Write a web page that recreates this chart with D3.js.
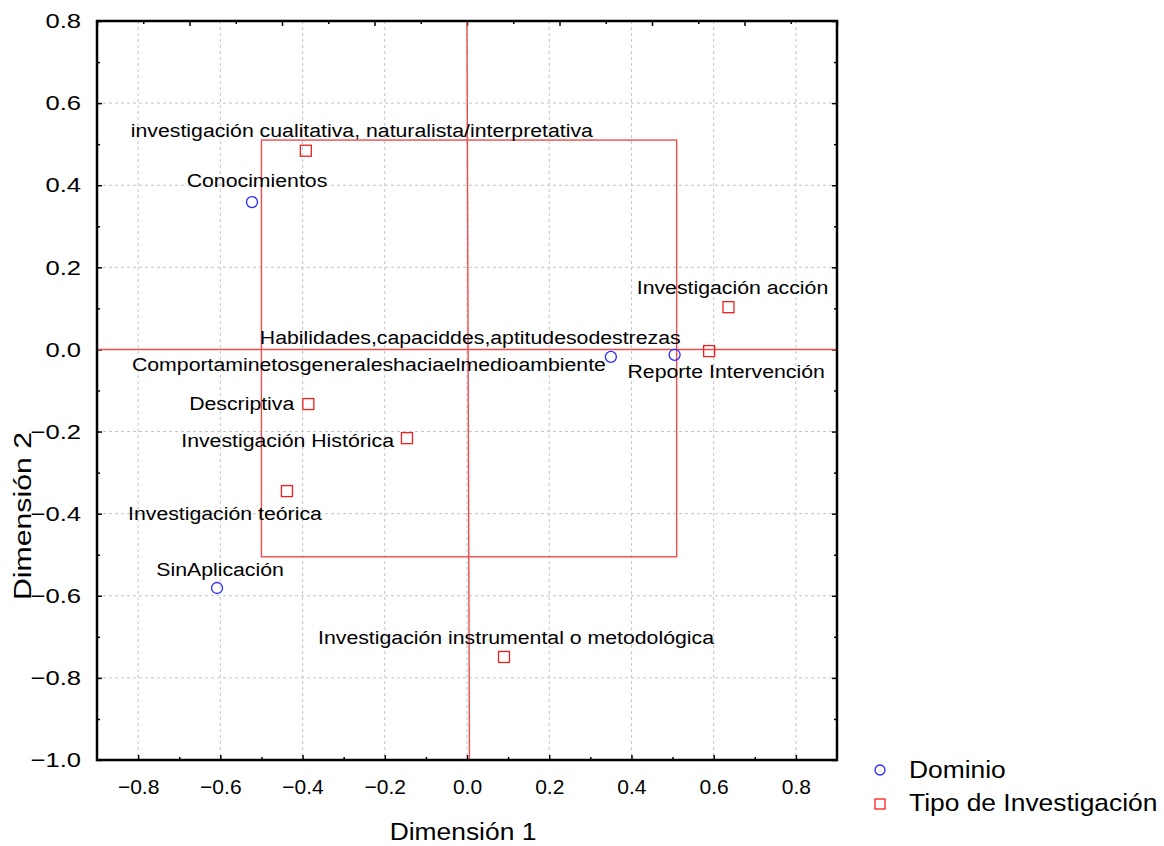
<!DOCTYPE html>
<html>
<head>
<meta charset="utf-8">
<script src="https://cdn.jsdelivr.net/npm/d3@7"></script>
<style>
  body { margin: 0; background: #fff; }
  text { font-family: "Liberation Sans", Arial, sans-serif; fill: #000; }
</style>
</head>
<body>
<div id="my_plot"></div>
<script>
// data
const dominioNames = ["Conocimientos", "Habilidades,capaciddes,aptitudesodestrezas",
    "Comportaminetosgeneraleshaciaelmedioambiente", "SinAplicación"];
const dominioDim1 = [-0.523, 0.505, 0.350, -0.608];
const dominioDim2 = [0.359, -0.013, -0.018, -0.581];

const tipoNames = ["investigación cualitativa, naturalista/interpretativa", "Investigación acción",
    "Reporte Intervención", "Descriptiva", "Investigación Histórica", "Investigación teórica",
    "Investigación instrumental o metodológica"];
const tipoDim1 = [-0.392, 0.636, 0.589, -0.386, -0.146, -0.438, 0.090];
const tipoDim2 = [0.484, 0.103, -0.004, -0.133, -0.216, -0.345, -0.749];

const legendNames = ["Dominio", "Tipo de Investigación"];
const xTickValues = [-0.8, -0.6, -0.4, -0.2, 0.0, 0.2, 0.4, 0.6, 0.8];
const yTickValues = [-1.0, -0.8, -0.6, -0.4, -0.2, 0.0, 0.2, 0.4, 0.6, 0.8];

// red reference box and cross lines
const boxDim1 = [-0.50, 0.51];
const boxDim2 = [-0.505, 0.51];
const crossDim1 = [0.0, 0.006];   // vertical line, top / bottom
const crossDim2 = 0.0;

// label placement (pixels from the marker): [dx, dy, anchor]
const dominioLabelPos = [[5, -15, "middle"], [6, -11, "end"], [-5, 14, "end"], [3, -12, "middle"]];
const tipoLabelPos = [[56, -14, "middle"], [4, -13, "middle"], [17, 27, "middle"], [-14, 6, "end"],
    [-13, 9, "end"], [-62, 29, "middle"], [12, -13, "middle"]];

// set the dimensions and margins of the graph
const margin = {top: 21, right: 327, bottom: 86, left: 97},
    width = 1164 - margin.left - margin.right,
    height = 846 - margin.top - margin.bottom;

const svg = d3.select("#my_plot")
    .append("svg")
    .attr("width", 1164)
    .attr("height", 846);
const g = svg.append("g")
    .attr("transform", `translate(${margin.left},${margin.top})`);

const x = d3.scaleLinear().domain([-0.9, 0.9]).range([0, width]);
const y = d3.scaleLinear().domain([-1.0, 0.8]).range([height, 0]);
const xTop = d3.scaleLinear().domain([-8, 8]).range([0, width]);

const red = "#ee4d4d";
const labelFont = 19, labelSx = 1.12;

// grid
g.selectAll("line.gx")
    .data(xTickValues)
    .join("line")
    .attr("x1", d => x(d)).attr("x2", d => x(d))
    .attr("y1", 0).attr("y2", height)
    .attr("stroke", "#c4c4c4").attr("stroke-dasharray", "3,3");
g.selectAll("line.gy")
    .data(yTickValues.filter(d => d > -1 && d < 0.8))
    .join("line")
    .attr("y1", d => y(d)).attr("y2", d => y(d))
    .attr("x1", 0).attr("x2", width)
    .attr("stroke", "#c4c4c4").attr("stroke-dasharray", "3,3");

// minor / major ticks, all pointing inwards
const minorX = d3.range(-8, 9).map(d => d / 10);
const minorY = d3.range(-10, 9).map(d => d / 10);
function isMajor(v) { return Math.abs(Math.round(v * 10)) % 2 === 0; }

g.append("g")
    .attr("transform", `translate(0,${height})`)
    .call(d3.axisBottom(x).tickValues(minorX).tickSizeInner(-3).tickSizeOuter(0).tickFormat(""))
    .call(a => a.selectAll(".tick line").attr("y2", d => isMajor(d) ? -5 : -3).attr("stroke-width", 1.5));
g.append("g")
    .call(d3.axisLeft(y).tickValues(minorY).tickSizeInner(-3).tickSizeOuter(0).tickFormat(""))
    .call(a => a.selectAll(".tick line").attr("x2", d => isMajor(d) ? 5 : 3).attr("stroke-width", 1.5));
g.append("g")
    .attr("transform", `translate(${width},0)`)
    .call(d3.axisRight(y).tickValues(minorY).tickSizeInner(-3).tickSizeOuter(0).tickFormat(""))
    .call(a => a.selectAll(".tick line").attr("x2", d => isMajor(d) ? -5 : -3).attr("stroke-width", 1.5));
g.append("g")
    .call(d3.axisTop(xTop).ticks(16).tickSizeInner(-3).tickSizeOuter(0).tickFormat(""))
    .call(a => a.selectAll(".tick line").attr("y2", d => d % 2 === 0 ? 5 : 3).attr("stroke-width", 1.5));
g.selectAll(".domain").remove();

// tick labels
g.append("g")
    .attr("transform", `translate(0,${height})`)
    .call(d3.axisBottom(x).tickValues(xTickValues).tickSize(0).tickPadding(19).tickFormat(d3.format(".1f")))
    .call(a => a.select(".domain").remove())
    .selectAll("text").style("font-size", "21px");
const ySx = 1.22;
g.append("g")
    .call(d3.axisLeft(y).tickValues(yTickValues).tickSize(0).tickPadding(16).tickFormat(d3.format(".1f")))
    .call(a => a.select(".domain").remove())
    .selectAll("text")
    .style("font-size", "21px")
    .attr("x", -16 / ySx)
    .attr("transform", `scale(${ySx},1)`);

// red reference box and cross
g.append("rect")
    .attr("x", x(boxDim1[0])).attr("y", y(boxDim2[1]))
    .attr("width", x(boxDim1[1]) - x(boxDim1[0]))
    .attr("height", y(boxDim2[0]) - y(boxDim2[1]))
    .attr("fill", "none").attr("stroke", red).attr("stroke-width", 1.4);
g.append("line")
    .attr("x1", 0).attr("x2", width)
    .attr("y1", y(crossDim2)).attr("y2", y(crossDim2))
    .attr("stroke", red).attr("stroke-width", 1.4);
g.append("line")
    .attr("x1", x(crossDim1[0])).attr("x2", x(crossDim1[1]))
    .attr("y1", 0).attr("y2", height)
    .attr("stroke", red).attr("stroke-width", 1.4);

// frame
g.append("rect")
    .attr("width", width).attr("height", height)
    .attr("fill", "none").attr("stroke", "#000").attr("stroke-width", 2.5);

// points
const dominio = dominioNames.map((n, i) => ({name: n, d1: dominioDim1[i], d2: dominioDim2[i], pos: dominioLabelPos[i]}));
const tipo = tipoNames.map((n, i) => ({name: n, d1: tipoDim1[i], d2: tipoDim2[i], pos: tipoLabelPos[i]}));

g.selectAll("circle.dom")
    .data(dominio)
    .join("circle")
    .attr("cx", d => x(d.d1)).attr("cy", d => y(d.d2))
    .attr("r", 5.5)
    .attr("fill", "none").attr("stroke", "#2b2bff").attr("stroke-width", 1.3);
g.selectAll("rect.tipo")
    .data(tipo)
    .join("rect")
    .attr("x", d => x(d.d1) - 5.5).attr("y", d => y(d.d2) - 5.5)
    .attr("width", 11).attr("height", 11)
    .attr("fill", "none").attr("stroke", "#f02020").attr("stroke-width", 1.3);

// point labels
g.selectAll("text.lbl")
    .data(dominio.concat(tipo))
    .join("text")
    .attr("text-anchor", d => d.pos[2])
    .attr("transform", d => `translate(${x(d.d1) + d.pos[0]},${y(d.d2) + d.pos[1]}) scale(${labelSx},1)`)
    .style("font-size", labelFont + "px")
    .text(d => d.name);

// axis titles
svg.append("text")
    .attr("text-anchor", "middle")
    .attr("transform", "translate(463,840) scale(1.1,1)")
    .style("font-size", "24px")
    .text("Dimensión 1");
svg.append("text")
    .attr("text-anchor", "middle")
    .attr("transform", "translate(31,516) rotate(-90) scale(1.26,1)")
    .style("font-size", "24px")
    .text("Dimensión 2");

// legend
const legend = svg.append("g").attr("transform", "translate(880,770)");
legend.append("circle")
    .attr("cx", 0).attr("cy", 0).attr("r", 5)
    .attr("fill", "none").attr("stroke", "#2b2bff").attr("stroke-width", 1.3);
legend.append("rect")
    .attr("x", -5).attr("y", 29).attr("width", 10).attr("height", 10)
    .attr("fill", "none").attr("stroke", "#f02020").attr("stroke-width", 1.3);
legend.selectAll("text")
    .data(legendNames)
    .join("text")
    .attr("transform", (d, i) => `translate(29,${8 + i * 33}) scale(1.1,1)`)
    .style("font-size", "24px")
    .text(d => d);
</script>
</body>
</html>
